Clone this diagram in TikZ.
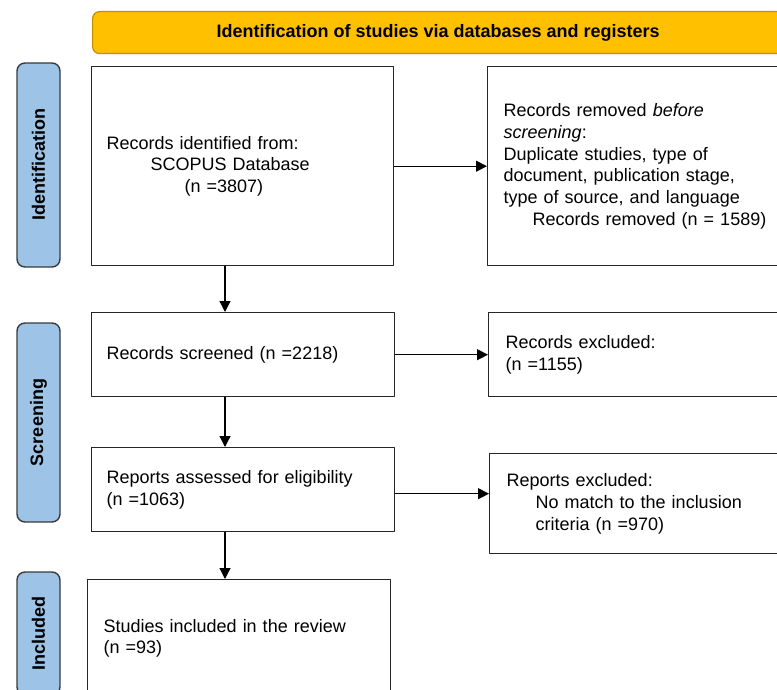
\documentclass[tikz,border=0pt]{standalone}
\usepackage{fontspec}
\setmainfont{Liberation Sans}
\usetikzlibrary{arrows.meta}
\definecolor{hdrfill}{HTML}{FFC000}
\definecolor{hdrline}{HTML}{BF9000}
\definecolor{phasefill}{HTML}{9DC3E6}
\definecolor{phaseline}{HTML}{3A3A3A}
\begin{document}
\begin{tikzpicture}[x=0.5pt, y=-0.5pt, line join=round, font=\fontsize{9pt}{10.85pt}\selectfont,
    box/.style={draw=black!85, line width=0.7pt, anchor=north west, align=left, inner ysep=0pt},
    phase/.style={draw=phaseline, fill=phasefill, line width=0.7pt, rounded corners=4pt, rotate=90,
        minimum height=21.5pt, inner sep=0pt, font=\fontsize{9pt}{10.85pt}\selectfont\bfseries},
    arr/.style={-{Triangle[length=5.5pt,width=5.5pt]}, line width=0.6pt}]
    \useasboundingbox (0,0) rectangle (777,690);
    \clip (0,0) rectangle (777,690);
    % header
    \node[draw=hdrline, fill=hdrfill, line width=0.6pt, rounded corners=3.5pt, anchor=north west,
        minimum width=345.5pt, minimum height=21pt, font=\fontsize{9pt}{10.85pt}\selectfont\bfseries]
        (head) at (92,11) {Identification of studies via databases and registers};
    % phases
    \node[phase, minimum width=102pt] (phid) at (38.5,165) {Identification};
    \node[phase, minimum width=99.5pt] (phscr) at (38.5,422.5) {Screening};
    \node[phase, minimum width=61.5pt] (phinc) at (38.5,633.5) {Included};
    % boxes
    \node[box, inner xsep=7.5pt, text width=136pt, minimum height=99.5pt] (id) at (91,66)
        {Records identified from:\\ \hspace*{22pt}SCOPUS Database\\ \hspace*{39pt}(n =3807)};
    \node[box, inner xsep=8pt, text width=135.5pt, minimum height=99.5pt] (rem) at (487,66)
        {Records removed \textit{before}\\ \textit{screening}:\\ Duplicate studies, type of\\
         document, publication stage,\\ type of source, and language\\
         \hspace*{14.5pt}Records removed (n = 1589)};
    \node[box, inner xsep=7.5pt, text width=136.5pt, minimum height=42pt] (scr) at (91,312)
        {Records screened (n =2218)};
    \node[box, inner xsep=8.5pt, text width=134.5pt, minimum height=42pt] (exc) at (488,312)
        {Records excluded:\\ (n =1155)};
    \node[box, inner xsep=7.5pt, text width=136.5pt, minimum height=42pt] (ass) at (91,447)
        {Reports assessed for eligibility\\ (n =1063)};
    \node[box, inner xsep=8.5pt, text width=134.5pt, minimum height=50pt] (rpx) at (489,453)
        {Reports excluded:\\ \hspace*{14.5pt}No match to the inclusion\\ \hspace*{14.5pt}criteria (n =970)};
    \node[box, inner xsep=8pt, text width=135.5pt, minimum height=58.5pt] (inc) at (87,579)
        {Studies included in the review\\ (n =93)};
    % arrows
    \coordinate (col) at (225,0);
    \draw[arr] (id.east) -- (id.east -| rem.west);
    \draw[arr] (scr.east) -- (scr.east -| exc.west);
    \draw[arr] ([yshift=-2pt]ass.east) -- ([yshift=-2pt]ass.east -| rpx.west);
    \draw[arr] (id.south -| col) -- (scr.north -| col);
    \draw[arr] (scr.south -| col) -- (ass.north -| col);
    \draw[arr] (ass.south -| col) -- (inc.north -| col);
\end{tikzpicture}
\end{document}
